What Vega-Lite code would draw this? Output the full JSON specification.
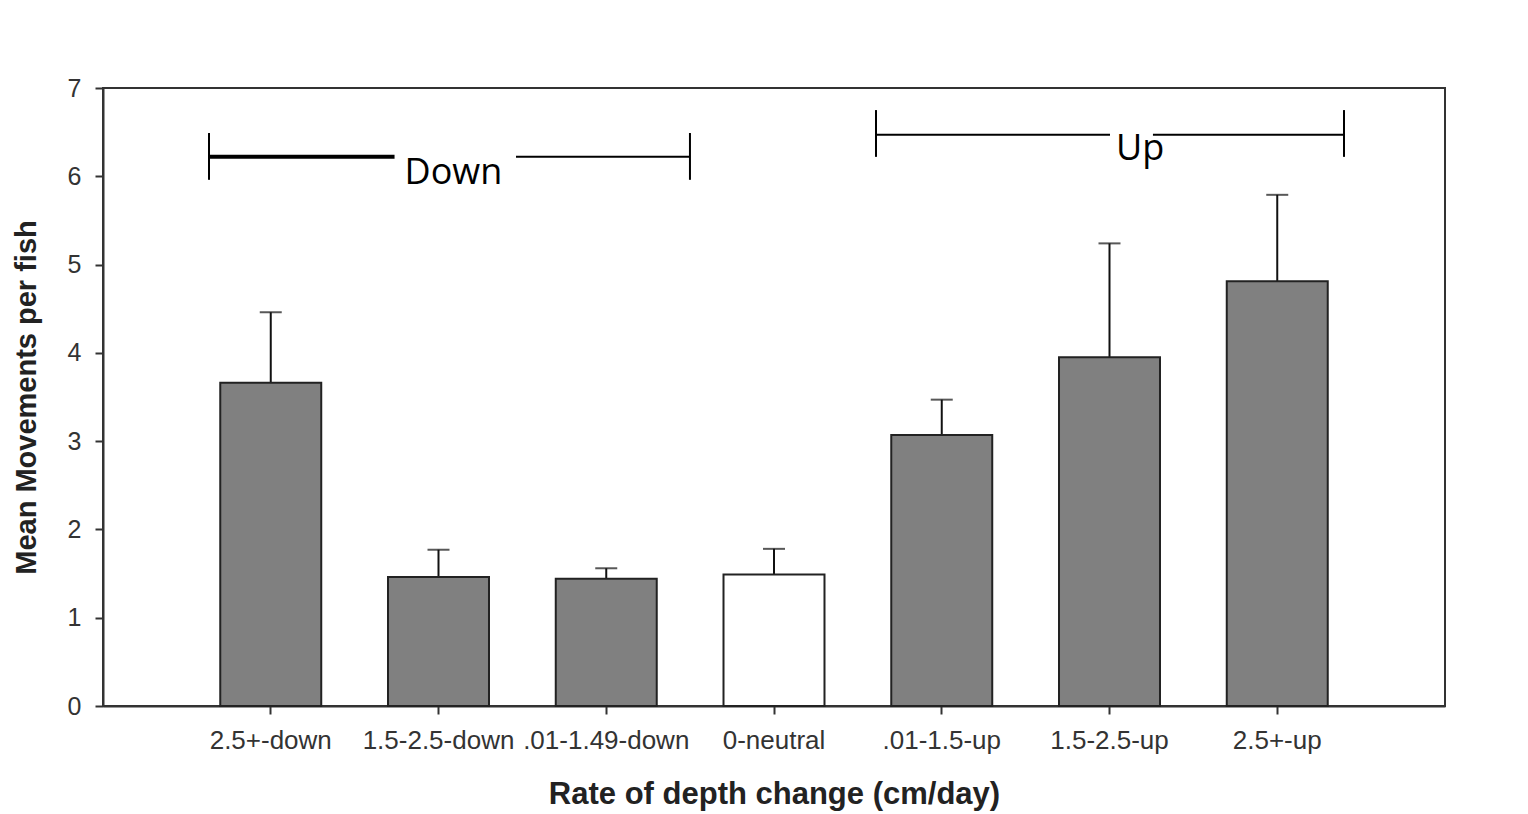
{
  "$schema": "https://vega.github.io/schema/vega-lite/v6.json",
  "width": 1342,
  "height": 618,
  "autosize": {"type": "none"},
  "padding": {"left": 103, "top": 88, "right": 83, "bottom": 108},
  "background": "white",
  "config": {
    "view": {"stroke": "#333", "strokeWidth": 2},
    "font": "Liberation Sans"
  },
  "datasets": {
    "bars": [
      {"rate": "2.5+-down", "dir": "down", "mean": 3.66, "upper": 4.46},
      {"rate": "1.5-2.5-down", "dir": "down", "mean": 1.46, "upper": 1.77},
      {"rate": ".01-1.49-down", "dir": "down", "mean": 1.44, "upper": 1.56},
      {"rate": "0-neutral", "dir": "neutral", "mean": 1.49, "upper": 1.78},
      {"rate": ".01-1.5-up", "dir": "up", "mean": 3.07, "upper": 3.47},
      {"rate": "1.5-2.5-up", "dir": "up", "mean": 3.95, "upper": 5.24},
      {"rate": "2.5+-up", "dir": "up", "mean": 4.81, "upper": 5.79}
    ],
    "hsegs": [
      {"grp": "Down", "part": "thick", "x": 0.632, "x2": 1.738, "y": 6.22},
      {"grp": "Down", "part": "thin", "x": 2.462, "x2": 3.499, "y": 6.22},
      {"grp": "Up", "part": "thin", "x": 4.608, "x2": 6.003, "y": 6.47},
      {"grp": "Up", "part": "thin", "x": 6.259, "x2": 7.398, "y": 6.47}
    ],
    "vticks": [
      {"grp": "Down", "x": 0.632, "y": 5.96, "y2": 6.49},
      {"grp": "Down", "x": 3.499, "y": 5.96, "y2": 6.49},
      {"grp": "Up", "x": 4.608, "y": 6.22, "y2": 6.75},
      {"grp": "Up", "x": 7.398, "y": 6.22, "y2": 6.75}
    ],
    "labels": [
      {"label": "Down", "x": 2.089, "y": 5.91},
      {"label": "Up", "x": 6.182, "y": 6.18}
    ]
  },
  "layer": [
    {
      "data": {"name": "bars"},
      "encoding": {
        "x": {
          "field": "rate",
          "type": "nominal",
          "sort": null,
          "scale": {"paddingInner": 0.398, "paddingOuter": 0.699},
          "axis": {
            "title": "Rate of depth change (cm/day)",
            "titleFontSize": 31,
            "titleFontWeight": "bold",
            "titleColor": "#222",
            "titlePadding": 26,
            "labelAngle": 0,
            "labelFontSize": 26,
            "labelColor": "#333",
            "labelPadding": 13,
            "tickSize": 8,
            "tickWidth": 2,
            "tickColor": "#333",
            "domainColor": "#333",
            "domainWidth": 2
          }
        }
      },
      "layer": [
        {
          "mark": {"type": "rule", "color": "#111", "strokeWidth": 2},
          "encoding": {
            "y": {
              "field": "mean",
              "type": "quantitative",
              "scale": {"domain": [0, 7], "nice": false},
              "axis": {
                "title": "Mean Movements per fish",
                "titleFontSize": 29,
                "titleFontWeight": "bold",
                "titleColor": "#222",
                "titlePadding": 26,
                "values": [0, 1, 2, 3, 4, 5, 6, 7],
                "format": "d",
                "grid": false,
                "labelFontSize": 25,
                "labelColor": "#333",
                "labelPadding": 14,
                "tickSize": 8,
                "tickWidth": 2,
                "tickColor": "#333",
                "domainColor": "#333",
                "domainWidth": 2
              }
            },
            "y2": {"field": "upper"}
          }
        },
        {
          "mark": {"type": "tick", "color": "#111", "size": 22, "thickness": 2},
          "encoding": {
            "y": {"field": "upper", "type": "quantitative"}
          }
        },
        {
          "mark": {"type": "bar", "stroke": "#222", "strokeWidth": 2},
          "encoding": {
            "y": {"field": "mean", "type": "quantitative"},
            "color": {
              "field": "dir",
              "type": "nominal",
              "scale": {"domain": ["down", "neutral", "up"], "range": ["#808080", "#ffffff", "#808080"]},
              "legend": null
            }
          }
        }
      ]
    },
    {
      "layer": [
        {
          "data": {"name": "hsegs"},
          "mark": {"type": "rule", "color": "#000"},
          "encoding": {
            "x": {"field": "x", "type": "quantitative", "scale": {"domain": [0, 8], "nice": false, "zero": false}, "axis": null},
            "x2": {"field": "x2"},
            "y": {"field": "y", "type": "quantitative", "scale": {"domain": [0, 7], "nice": false}, "axis": null},
            "strokeWidth": {
              "field": "part",
              "type": "nominal",
              "scale": {"domain": ["thick", "thin"], "range": [4, 2]},
              "legend": null
            }
          }
        },
        {
          "data": {"name": "vticks"},
          "mark": {"type": "rule", "color": "#000", "strokeWidth": 2},
          "encoding": {
            "x": {"field": "x", "type": "quantitative"},
            "y": {"field": "y", "type": "quantitative"},
            "y2": {"field": "y2"}
          }
        },
        {
          "data": {"name": "labels"},
          "mark": {"type": "text", "font": "Open Sans", "fontSize": 36, "align": "center", "baseline": "alphabetic", "color": "#000"},
          "encoding": {
            "x": {"field": "x", "type": "quantitative"},
            "y": {"field": "y", "type": "quantitative"},
            "text": {"field": "label"}
          }
        }
      ]
    }
  ],
  "resolve": {"scale": {"x": "independent", "y": "independent", "color": "independent", "strokeWidth": "independent"}}
}
